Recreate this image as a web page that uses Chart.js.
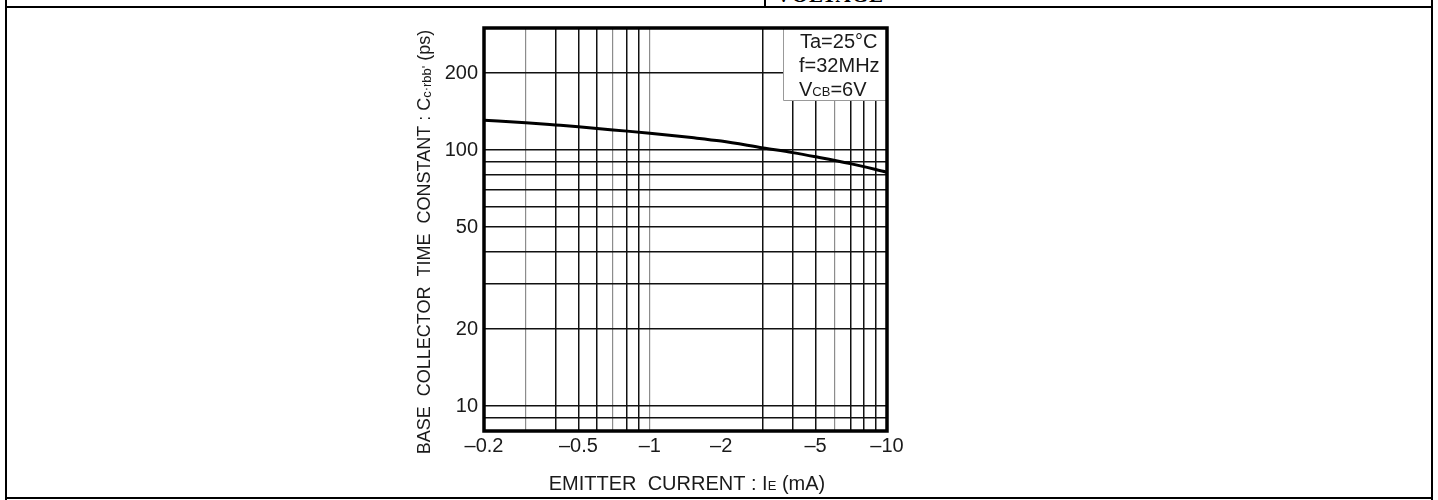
<!DOCTYPE html>
<html><head><meta charset="utf-8">
<script src="https://cdn.jsdelivr.net/npm/chart.js@4.4.1/dist/chart.umd.min.js"></script>
<style>
html,body{margin:0;padding:0;background:#fff;}
#wrap{position:relative;width:1438px;height:500px;overflow:hidden;background:#fff;}
#c{position:absolute;left:0;top:0;}
.ln{position:absolute;background:#000;}
#cut{position:absolute;left:776px;top:-17px;font:bold 21px "Liberation Serif","Times New Roman",serif;letter-spacing:1px;color:#000;}
</style></head>
<body><div id="wrap">
<div id="cut">VOLTAGE</div>
<div class="ln" style="left:5px;top:0;width:2px;height:500px"></div>
<div class="ln" style="left:1431px;top:0;width:2px;height:500px"></div>
<div class="ln" style="left:5px;top:6px;width:1428px;height:2px"></div>
<div class="ln" style="left:5px;top:497px;width:1428px;height:2px"></div>
<div class="ln" style="left:764px;top:0;width:2px;height:7px"></div>
<canvas id="c" width="1438" height="500"></canvas>
</div>
<script>
// ---- data ----
const currentMA      = [0.2, 0.3, 0.4, 0.5, 0.7, 1, 1.5, 2, 3, 4, 5, 7, 10];
const timeConstantPs = [131, 128, 125.5, 123.5, 120, 116.5, 112, 108.5, 102, 97.8, 94.2, 88.6, 82];
const xTickValues  = [0.2, 0.3, 0.4, 0.5, 0.6, 0.7, 0.8, 0.9, 1, 2, 3, 4, 5, 6, 7, 8, 9, 10];
const xLabelValues = [0.2, 0.5, 1, 2, 5, 10];
const yTickValues  = [8, 9, 10, 20, 30, 40, 50, 60, 70, 80, 90, 100, 200, 300];
const yLabelValues = [10, 20, 50, 100, 200];
const conditionLines = ["Ta=25°C", "f=32MHz", "VCB=6V"];

const FONT = "'Liberation Sans', Arial, Helvetica, sans-serif";
const xNoGrid = [0.2, 2, 10], xGray = [0.3, 0.7, 1, 6];
const yNoGrid = [8, 300];

const overlay = {
  id: 'overlay',
  afterDatasetsDraw(chart) {
    const ctx = chart.ctx, a = chart.chartArea;
    ctx.save();
    // condition box
    const bx = 783, by = a.top, bw = a.right - bx, bh = 100 - a.top;
    ctx.fillStyle = '#fff';
    ctx.fillRect(bx, by, bw, bh);
    ctx.strokeStyle = '#999'; ctx.lineWidth = 1;
    ctx.beginPath(); ctx.moveTo(bx + 0.5, by); ctx.lineTo(bx + 0.5, by + bh + 0.5); ctx.lineTo(a.right, by + bh + 0.5); ctx.stroke();
    ctx.fillStyle = '#1a1a1a'; ctx.textBaseline = 'alphabetic'; ctx.textAlign = 'left';
    ctx.font = '20px ' + FONT;
    ctx.fillText(conditionLines[0], 800, 48);
    ctx.fillText(conditionLines[1], 799, 72);
    // V with subscript CB
    let x = 799;
    ctx.fillText('V', x, 96); x += ctx.measureText('V').width;
    ctx.font = '13px ' + FONT;
    ctx.fillText('CB', x, 96); x += ctx.measureText('CB').width;
    ctx.font = '20px ' + FONT;
    ctx.fillText('=6V', x, 96);
    // frame
    ctx.strokeStyle = '#000'; ctx.lineWidth = 3.5;
    ctx.strokeRect(a.left, a.top, a.right - a.left, a.bottom - a.top);
    ctx.restore();
  },
  afterDraw(chart) {
    const ctx = chart.ctx;
    const drawSegs = (segs) => {
      let w = 0;
      segs.forEach(s => { ctx.font = s.size + 'px ' + FONT; s.w = ctx.measureText(s.t).width; w += s.w; });
      let x = -w / 2;
      segs.forEach(s => { ctx.font = s.size + 'px ' + FONT; ctx.fillText(s.t, x, s.dy || 0); x += s.w; });
    };
    ctx.save();
    ctx.fillStyle = '#1a1a1a'; ctx.textAlign = 'left'; ctx.textBaseline = 'alphabetic';
    // y title
    ctx.save();
    ctx.translate(430, 242); ctx.rotate(-Math.PI / 2);
    drawSegs([
      {t: 'BASE  COLLECTOR  TIME  CONSTANT : C', size: 18},
      {t: 'c', size: 13, dy: 1},
      {t: '·', size: 13},
      {t: 'rbb\'', size: 13, dy: 1},
      {t: ' (ps)', size: 18}
    ]);
    ctx.restore();
    // x title
    ctx.save();
    ctx.translate(687, 490);
    drawSegs([
      {t: 'EMITTER  CURRENT : I', size: 20},
      {t: 'E', size: 13},
      {t: ' (mA)', size: 20}
    ]);
    ctx.restore();
    ctx.restore();
  }
};

new Chart(document.getElementById('c'), {
  type: 'line',
  data: {
    datasets: [{
      data: currentMA.map((v, i) => ({x: v, y: timeConstantPs[i]})),
      borderColor: '#000', borderWidth: 3, pointRadius: 0, fill: false,
      cubicInterpolationMode: 'monotone'
    }]
  },
  options: {
    responsive: false, animation: false, devicePixelRatio: 1,
    layout: {padding: {left: 400, right: 551, top: 28, bottom: 0}},
    plugins: {legend: {display: false}, tooltip: {enabled: false}},
    scales: {
      x: {
        type: 'logarithmic', min: 0.2, max: 10,
        afterBuildTicks: s => { s.ticks = xTickValues.map(v => ({value: v})); },
        afterFit: s => { s.height = 69; },
        border: {display: false},
        grid: {
          drawTicks: false,
          color: c => { const v = c.tick && c.tick.value; if (xNoGrid.includes(v)) return 'rgba(0,0,0,0)'; return xGray.includes(v) ? '#8c8c8c' : '#111'; },
          lineWidth: c => { const v = c.tick && c.tick.value; return xGray.includes(v) ? 1.2 : 1.5; }
        },
        ticks: {
          autoSkip: false, maxRotation: 0, minRotation: 0, padding: 3, color: '#1a1a1a',
          font: {family: FONT, size: 20},
          callback: v => xLabelValues.includes(v) ? '\u2013' + v : ''
        }
      },
      y: {
        type: 'logarithmic', min: 8, max: 300,
        afterBuildTicks: s => { s.ticks = yTickValues.map(v => ({value: v})); },
        afterFit: s => { s.width = 84; },
        border: {display: false},
        grid: {
          drawTicks: false,
          color: c => { const v = c.tick && c.tick.value; return yNoGrid.includes(v) ? 'rgba(0,0,0,0)' : '#111'; },
          lineWidth: 1.5
        },
        ticks: {
          autoSkip: false, padding: 6, color: '#1a1a1a',
          font: {family: FONT, size: 20},
          callback: v => yLabelValues.includes(v) ? String(v) : ''
        }
      }
    }
  },
  plugins: [overlay]
});
</script>
</body></html>
